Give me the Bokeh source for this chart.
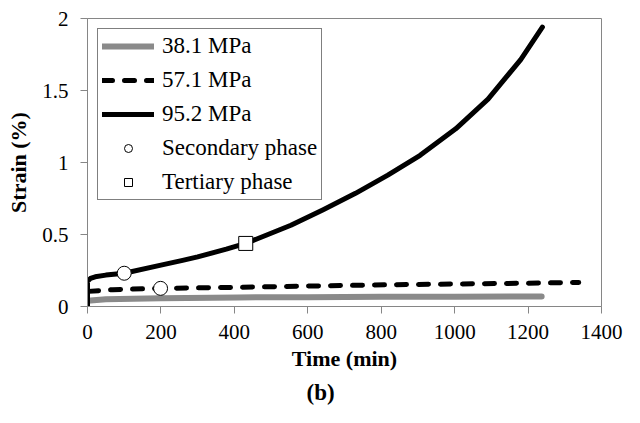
from bokeh.plotting import figure
from bokeh.models import Legend, LegendItem, FixedTicker, NumeralTickFormatter, Title, Range1d
from bokeh.embed import file_html
from bokeh.resources import INLINE

# ---- data ----
t_381 = [0, 50, 200, 409, 600, 800, 1000, 1237]
s_381 = [0.04, 0.05, 0.058, 0.063, 0.065, 0.067, 0.068, 0.069]

t_571 = [3, 30, 69, 199, 409, 600, 827, 1000, 1200, 1338]
s_571 = [0.105, 0.11, 0.117, 0.126, 0.133, 0.142, 0.151, 0.156, 0.162, 0.167]

t_952 = [0, 0, 8, 21, 50, 100, 200, 259, 300, 378, 431, 554, 642, 730, 818, 906, 1003, 1091, 1180, 1239]
s_952 = [0, 0.175, 0.195, 0.206, 0.218, 0.231, 0.287, 0.32, 0.345, 0.398, 0.438, 0.564, 0.672,
         0.786, 0.912, 1.05, 1.234, 1.44, 1.715, 1.94]

sec_t = [100, 199]
sec_s = [0.231, 0.126]
ter_t = [431]
ter_s = [0.438]

x_ticks = [0, 200, 400, 600, 800, 1000, 1200, 1400]
y_ticks = [0, 0.5, 1, 1.5, 2]

FONT = "Liberation Serif"
AX = "#868686"

p = figure(frame_width=514, frame_height=288, output_backend="svg", toolbar_location=None,
           x_range=Range1d(0, 1400), y_range=Range1d(0, 2),
           min_border_left=87, min_border_right=23, min_border_top=18, min_border_bottom=101)
p.grid.visible = False
p.outline_line_color = AX
p.outline_line_width = 1
p.background_fill_color = "white"
p.border_fill_color = "white"

r1 = p.line(t_381, s_381, line_color="#8a8a8a", line_width=6, line_cap="round")
r2 = p.line(t_571, s_571, line_color="black", line_width=5, line_dash="10 12", line_cap="round")
r3 = p.line(t_952, s_952, line_color="black", line_width=5, line_cap="round", line_join="round")
r4 = p.scatter(sec_t, sec_s, marker="circle", size=14, fill_color="white", line_color="black", line_width=1)
r5 = p.scatter(ter_t, ter_s, marker="square", size=14, fill_color="white", line_color="black", line_width=1)

for ax in (p.xaxis[0], p.yaxis[0]):
    ax.axis_line_color = AX
    ax.major_tick_line_color = AX
    ax.major_tick_in = 0
    ax.major_tick_out = 7
    ax.minor_tick_line_color = None
    ax.major_label_text_font = FONT
    ax.major_label_text_font_size = "21px"
    ax.major_label_text_color = "black"
    ax.axis_label_text_font = FONT
    ax.axis_label_text_font_size = "22px"
    ax.axis_label_text_font_style = "bold"
    ax.axis_label_text_color = "black"

p.xaxis.ticker = FixedTicker(ticks=x_ticks)
p.yaxis.ticker = FixedTicker(ticks=y_ticks)
p.yaxis.formatter = NumeralTickFormatter(format="0.[0]")
p.xaxis.axis_label = "Time (min)"
p.yaxis.axis_label = "Strain (%)"
p.xaxis.major_label_standoff = 11
p.yaxis.major_label_standoff = 12
p.xaxis.axis_label_standoff = 4
p.yaxis.axis_label_standoff = 8

legend = Legend(items=[
    LegendItem(label="38.1 MPa", renderers=[r1]),
    LegendItem(label="57.1 MPa", renderers=[r2]),
    LegendItem(label="95.2 MPa", renderers=[r3]),
    LegendItem(label="Secondary phase", renderers=[r4]),
    LegendItem(label="Tertiary phase", renderers=[r5]),
], location="top_left")
legend.label_text_font = FONT
legend.label_text_font_size = "23px"
legend.label_text_color = "black"
legend.border_line_color = "black"
legend.border_line_width = 1
legend.background_fill_alpha = 1
legend.glyph_width = 52
legend.glyph_height = 20
legend.label_height = 20
legend.spacing = 8
legend.padding = 4
legend.margin = 10
legend.label_standoff = 8
p.add_layout(legend)

# caption "(b)" below the axis label
cap = Title(text="(b)", align="left", offset=219, standoff=8,
            text_font=FONT, text_font_size="23px", text_font_style="bold",
            text_color="black")
p.add_layout(cap, "below")

open("out.html", "w").write(file_html(p, INLINE))
